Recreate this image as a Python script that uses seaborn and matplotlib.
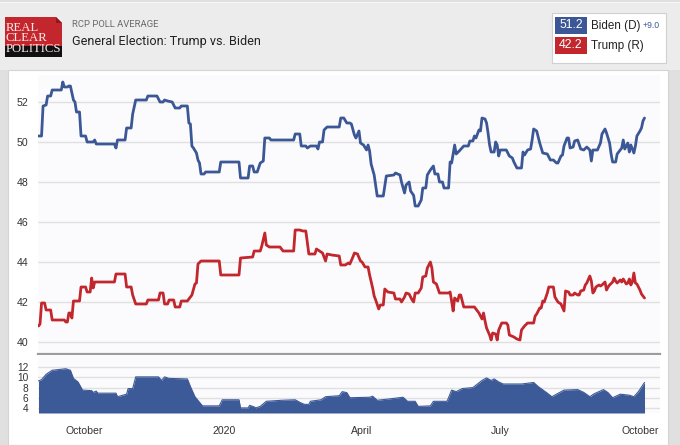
import matplotlib
matplotlib.use("Agg")
import matplotlib.pyplot as plt
from matplotlib.patches import Rectangle, Polygon
import numpy as np
import pandas as pd
import seaborn as sns

# ---------------- data (days since 2019-09-01) ----------------
START = "2019-09-01"

biden_days = [0, 2, 3, 5, 6, 8, 9, 15, 16, 17, 19, 20, 21, 23, 24, 25, 27, 28, 31, 32,
              36, 37, 38, 50, 51, 52, 57, 58, 61, 62, 64, 71, 72, 78, 80, 82, 83, 85, 88, 90,
              93, 94, 98, 99, 100, 101, 102, 104, 105, 106, 107, 109, 110, 119, 120, 132, 133, 138, 139, 141,
              142, 144, 146, 148, 149, 152, 153, 168, 169, 172, 173, 176, 177, 179, 183, 184, 185, 187, 188, 190,
              198, 199, 201, 203, 205, 206, 208, 209, 211, 212, 214, 216, 217, 218, 219, 221, 223, 227, 229, 234,
              235, 238, 239, 241, 242, 244, 245, 247, 248, 250, 252, 253, 255, 256, 258, 260, 261, 263, 264, 266,
              267, 270, 271, 272, 274, 275, 277, 280, 283, 284, 286, 287, 288, 290, 291, 292, 294, 295, 296, 297,
              298, 300, 301, 302, 303, 304, 308, 310, 312, 313, 315, 318, 319, 320, 322, 324, 325, 326, 328, 330,
              332, 335, 337, 339, 341, 342, 344, 345, 346, 348, 349, 350, 352, 353, 355, 357, 359, 361, 363, 364,
              365, 368, 370, 371, 373, 374, 376, 377, 378, 380, 381, 382, 384, 385, 386, 388, 389, 390, 392, 393,
              394, 396, 397, 398, 399]
biden_vals = [50.3, 50.3, 51.8, 51.85, 52.3, 52.3, 52.6, 52.6, 53.0, 52.75, 52.75, 52.8, 52.8, 52.1, 52.0, 51.5, 51.5, 50.3, 50.3, 50.0,
              50.0, 50.1, 49.9, 49.9, 49.7, 50.1, 50.1, 50.7, 50.7, 51.4, 52.1, 52.1, 52.3, 52.3, 52.0, 52.0, 52.1, 52.05, 52.0, 51.7,
              51.7, 51.8, 51.8, 50.95, 50.9, 49.8, 49.7, 49.45, 49.1, 48.95, 48.4, 48.4, 48.5, 48.5, 49.0, 49.0, 48.2, 48.2, 48.8, 48.8,
              48.5, 48.5, 48.95, 49.05, 50.2, 50.2, 50.1, 50.1, 50.4, 50.4, 49.8, 49.8, 49.7, 49.8, 49.8, 49.65, 50.0, 50.0, 50.6, 50.75,
              50.75, 51.2, 51.2, 50.95, 50.95, 50.9, 50.35, 50.2, 50.55, 49.95, 49.85, 49.6, 49.85, 49.55, 48.9, 48.35, 47.3, 47.3, 48.3, 48.35,
              48.45, 48.35, 48.0, 47.45, 47.85, 48.0, 47.55, 47.33, 46.8, 46.8, 47.1, 47.7, 47.7, 48.35, 48.6, 48.8, 48.4, 48.4, 48.0, 48.0,
              47.7, 47.7, 49.0, 48.95, 49.85, 49.4, 49.55, 49.8, 49.8, 50.05, 50.05, 50.3, 50.2, 50.6, 50.55, 51.2, 51.15, 50.95, 50.45, 49.85,
              49.5, 49.5, 50.0, 49.85, 49.3, 49.6, 49.6, 49.3, 49.2, 49.0, 48.7, 48.7, 49.5, 49.35, 49.6, 49.65, 50.1, 50.65, 50.55, 49.95,
              49.45, 49.4, 49.1, 49.1, 48.95, 48.95, 49.3, 49.35, 49.8, 50.2, 50.2, 49.7, 49.75, 50.05, 50.1, 49.65, 49.6, 49.75, 49.6, 49.05,
              49.6, 49.6, 49.95, 50.4, 50.65, 50.45, 49.95, 49.4, 49.0, 49.0, 49.4, 49.5, 49.7, 50.1, 49.65, 49.95, 49.5, 49.85, 49.45, 49.8,
              50.3, 50.55, 50.7, 51.05, 51.2]

trump_days = [0, 1, 2, 4, 5, 8, 9, 17, 18, 19, 20, 21, 22, 23, 27, 28, 31, 32, 34, 35,
              36, 37, 50, 51, 57, 58, 61, 62, 64, 71, 72, 79, 80, 82, 83, 85, 86, 89, 90, 93,
              94, 98, 100, 101, 103, 104, 105, 107, 119, 120, 132, 133, 141, 142, 146, 147, 149, 150, 152, 159,
              161, 168, 169, 172, 174, 176, 178, 182, 183, 185, 187, 189, 190, 193, 198, 199, 202, 204, 205, 207,
              208, 210, 212, 213, 215, 217, 218, 220, 221, 222, 224, 225, 227, 228, 230, 234, 235, 238, 239, 241,
              242, 244, 246, 247, 248, 250, 252, 253, 255, 256, 258, 259, 260, 262, 264, 270, 271, 272, 273, 274,
              276, 277, 278, 280, 287, 289, 290, 292, 293, 294, 295, 297, 298, 299, 301, 302, 303, 305, 308, 309,
              310, 313, 315, 317, 318, 320, 322, 326, 327, 328, 330, 331, 332, 333, 335, 336, 339, 340, 342, 344,
              346, 347, 349, 350, 352, 353, 355, 356, 357, 359, 360, 361, 363, 364, 365, 366, 367, 369, 370, 371,
              373, 374, 375, 376, 378, 379, 380, 381, 383, 384, 385, 387, 388, 389, 390, 391, 392, 393, 394, 396,
              397, 398, 399]
trump_vals = [40.8, 40.9, 41.95, 41.95, 41.6, 41.6, 41.1, 41.1, 41.0, 41.0, 41.45, 41.45, 41.2, 42.05, 42.05, 42.75, 42.75, 42.5, 42.5, 43.2,
              42.7, 43.0, 43.0, 43.4, 43.4, 42.75, 42.75, 42.35, 41.9, 41.9, 42.1, 42.1, 42.45, 42.45, 41.9, 41.9, 42.1, 42.1, 41.75, 41.75,
              42.05, 42.05, 42.25, 42.35, 42.9, 42.95, 43.9, 44.05, 44.05, 43.35, 43.35, 44.2, 44.25, 44.55, 44.55, 44.8, 45.45, 44.85, 44.75, 44.75,
              44.55, 44.55, 45.6, 45.6, 45.55, 45.55, 44.4, 44.4, 44.65, 44.55, 44.45, 44.05, 44.4, 44.35, 44.3, 43.85, 43.85, 43.95, 43.9, 44.25,
              44.45, 44.4, 44.05, 44.0, 43.75, 43.75, 43.35, 42.7, 42.3, 42.1, 41.65, 41.85, 41.85, 42.65, 42.5, 42.45, 42.15, 42.15, 42.0, 42.25,
              42.45, 42.4, 42.1, 42.0, 42.45, 42.45, 42.7, 43.25, 43.3, 43.7, 44.0, 43.7, 43.0, 42.9, 42.45, 42.45, 42.5, 42.05, 41.55, 42.2,
              42.05, 42.35, 42.35, 41.75, 41.75, 41.55, 41.45, 41.15, 41.45, 41.05, 40.7, 40.35, 40.1, 40.45, 40.4, 40.1, 40.6, 40.95, 40.95, 40.85,
              40.35, 40.25, 40.15, 40.1, 40.6, 40.8, 40.95, 40.95, 41.3, 41.4, 41.7, 41.7, 42.05, 42.0, 42.45, 42.75, 42.75, 42.25, 42.0, 41.9,
              41.55, 42.55, 42.5, 42.35, 42.35, 42.45, 42.35, 42.35, 42.55, 42.6, 42.85, 42.95, 43.3, 43.05, 42.45, 42.55, 42.75, 42.85, 42.8, 42.85,
              43.0, 42.6, 42.75, 42.85, 43.0, 43.2, 43.05, 42.95, 43.1, 43.0, 43.15, 42.9, 42.95, 43.15, 42.85, 43.0, 43.45, 42.95, 42.9, 42.6,
              42.4, 42.3, 42.2]

spread_days = [0, 2, 5, 9, 18, 21, 23, 26, 29, 35, 36, 38, 39, 51, 52, 58, 59, 62, 64, 79,
               81, 83, 86, 98, 100, 103, 106, 108, 119, 121, 132, 133, 138, 139, 142, 143, 146, 150, 160, 169,
               172, 175, 178, 179, 186, 189, 198, 200, 203, 205, 218, 220, 223, 232, 240, 243, 248, 250, 258, 260,
               269, 272, 275, 279, 286, 292, 295, 298, 300, 303, 306, 318, 326, 329, 335, 338, 346, 355, 359, 363,
               366, 372, 375, 378, 383, 389, 392, 395, 399]
spread_vals = [9.3, 9.55, 10.6, 11.4, 11.7, 11.4, 9.8, 9.1, 7.5, 7.4, 7.05, 7.3, 6.9, 6.9, 6.2, 6.7, 7.8, 7.8, 10.1, 10.1,
               9.4, 10.1, 9.8, 9.7, 8.2, 6.2, 5.1, 4.4, 4.4, 5.6, 5.6, 4.0, 4.0, 4.5, 4.2, 4.0, 4.3, 5.3, 5.5, 5.6,
               5.1, 4.7, 4.7, 5.3, 5.6, 6.2, 6.4, 7.2, 7.0, 6.0, 6.1, 6.3, 5.5, 5.8, 6.1, 5.3, 5.3, 4.3, 4.4, 5.3,
               5.3, 7.5, 7.2, 7.8, 8.0, 9.4, 9.9, 9.4, 9.7, 9.1, 8.7, 8.7, 9.0, 8.2, 6.9, 6.2, 7.5, 7.6, 7.05, 6.2,
               6.8, 7.6, 7.0, 6.0, 6.7, 6.5, 6.2, 7.2, 9.0]

tick_dates = ["2019-10-01", "2020-01-01", "2020-04-01", "2020-07-01", "2020-10-01"]
tick_labels = ["October", "2020", "April", "July", "October"]
main_yticks = [40, 42, 44, 46, 48, 50, 52]
spread_yticks = [4, 6, 8, 10, 12]

biden_last, trump_last = 51.2, 42.2
lead_text = "+9.0"

# ---------------- styling ----------------
W, H = 680, 445
BLUE = "#3b5796"
RED = "#c1272d"
sns.set_theme(style="white")
plt.rcParams['font.family'] = ['Liberation Sans', 'DejaVu Sans']

def fx(x):
    return x / W

def fy(y):
    return 1 - y / H

start = pd.Timestamp(START)
def to_dates(days):
    return start + pd.to_timedelta(np.asarray(days, dtype=float), unit="D")

df_b = pd.DataFrame({"date": to_dates(biden_days), "value": biden_vals})
df_t = pd.DataFrame({"date": to_dates(trump_days), "value": trump_vals})
df_s = pd.DataFrame({"date": to_dates(spread_days), "value": spread_vals})

fig = plt.figure(figsize=(W / 100, H / 100), dpi=100)
fig.patch.set_facecolor("#e0e0e0")

# header band
fig.add_artist(Rectangle((0, fy(70)), 1, 67 / H, transform=fig.transFigure,
                         facecolor="#ececec", edgecolor="none", zorder=0))
fig.add_artist(Rectangle((0, fy(3)), 1, 1.2 / H, transform=fig.transFigure,
                         facecolor="#f7f7f7", edgecolor="none", zorder=0))
# white chart panel
fig.add_artist(Rectangle((fx(8), 0), (668 - 8) / W, fy(70), transform=fig.transFigure,
                         facecolor="white", edgecolor="#d4d4d4", lw=0.8, zorder=0))

xmin = start - pd.Timedelta(hours=8)
xmax = start + pd.Timedelta(days=409.2)

# ---------------- main axes ----------------
ax = fig.add_axes([fx(38), fy(354), (660 - 38) / W, (354 - 75) / H])
ax.set_facecolor("#fbfbfd")
for y in main_yticks:
    ax.axhline(y, color="#e0e0e0", lw=1.0, zorder=0)
sns.lineplot(data=df_b, x="date", y="value", ax=ax, color=BLUE, lw=2.0,
             estimator=None, zorder=3)
sns.lineplot(data=df_t, x="date", y="value", ax=ax, color=RED, lw=2.0,
             estimator=None, zorder=3)
ax.set_xlim(xmin, xmax)
ax.set_ylim(39.4, 53.35)
ax.set_yticks(main_yticks)
ax.set_yticklabels([str(v) for v in main_yticks])
ax.set_xticks([])
ax.set_xlabel("")
ax.set_ylabel("")
ax.tick_params(axis="y", length=0, pad=7, labelsize=7.6, labelcolor="#333333")
for s in ["top", "right", "left"]:
    ax.spines[s].set_visible(False)
ax.spines["bottom"].set_color("#9c9c9c")
ax.spines["bottom"].set_linewidth(1.6)

# ---------------- spread axes ----------------
ax2 = fig.add_axes([fx(38), fy(413), (660 - 38) / W, (413 - 355) / H])
ax2.set_facecolor("#fbfbfd")
for y in spread_yticks:
    ax2.axhline(y, color="#e0e0e0", lw=1.0, zorder=0)
ax2.fill_between(df_s["date"], df_s["value"], 3.0, color="#3d5a98", lw=0, zorder=2)
sns.lineplot(data=df_s, x="date", y="value", ax=ax2, color="#3d5a98", lw=0.8,
             estimator=None, zorder=3)
ax2.set_xlim(xmin, xmax)
ax2.set_ylim(3.0, 14.4)
ax2.set_yticks(spread_yticks)
ax2.set_yticklabels([str(v) for v in spread_yticks])
ax2.set_xticks(pd.to_datetime(tick_dates))
ax2.set_xticklabels(tick_labels)
ax2.set_xlabel("")
ax2.set_ylabel("")
ax2.tick_params(axis="y", length=0, pad=7, labelsize=7.3, labelcolor="#333333")
ax2.tick_params(axis="x", length=0, pad=9, labelsize=7.6, labelcolor="#333333")
for s in ax2.spines.values():
    s.set_visible(False)

# ---------------- header: logo ----------------
fig.add_artist(Rectangle((fx(5), fy(46)), 57 / W, 29 / H, transform=fig.transFigure,
                         facecolor="#c3262c", edgecolor="none", zorder=2))
fig.add_artist(Polygon([(fx(56), fy(17)), (fx(62), fy(17)), (fx(62), fy(23))],
                       closed=True, transform=fig.transFigure,
                       facecolor="#ececec", edgecolor="none", zorder=3))
fig.add_artist(Polygon([(fx(56), fy(17)), (fx(62), fy(23)), (fx(56), fy(23))],
                       closed=True, transform=fig.transFigure,
                       facecolor="#8e1a1e", edgecolor="none", zorder=3))
fig.add_artist(Rectangle((fx(5), fy(57)), 57 / W, 11 / H, transform=fig.transFigure,
                         facecolor="#111111", edgecolor="none", zorder=2))
serif = ["Liberation Serif", "DejaVu Serif"]
fig.text(fx(5.2), fy(22.0), "REAL\nCLEAR\nPOLITICS", family=serif, fontsize=9.2,
         color="#fbeaea", va="top", ha="left", linespacing=0.82, zorder=4)

fig.text(fx(72), fy(27), "RCP POLL AVERAGE", family=["Roboto", "DejaVu Sans"],
         fontsize=6.8, color="#6a6a6a")
fig.text(fx(72), fy(45), "General Election: Trump vs. Biden", family=["Roboto", "DejaVu Sans"],
         fontsize=9.1, color="#222222")

# ---------------- header: legend box ----------------
fig.add_artist(Rectangle((fx(552), fy(63)), (666 - 552) / W, 50 / H, transform=fig.transFigure,
                         facecolor="white", edgecolor="#d0d0d0", lw=0.8, zorder=2))
fig.add_artist(Rectangle((fx(555), fy(34)), 32 / W, 17 / H, transform=fig.transFigure,
                         facecolor=BLUE, edgecolor="none", zorder=3))
fig.add_artist(Rectangle((fx(555), fy(54)), 32 / W, 17 / H, transform=fig.transFigure,
                         facecolor=RED, edgecolor="none", zorder=3))
fig.text(fx(571), fy(25.5), f"{biden_last:.1f}", ha="center", va="center", fontsize=8.8,
         color="white", zorder=4)
fig.text(fx(571), fy(45.5), f"{trump_last:.1f}", ha="center", va="center", fontsize=8.8,
         color="white", zorder=4)
fig.text(fx(591), fy(25.5), "Biden (D)", ha="left", va="center", fontsize=8.4,
         color="#222222", zorder=4)
fig.text(fx(643), fy(26), lead_text, ha="left", va="center", fontsize=6.2,
         color=BLUE, zorder=4)
fig.text(fx(591), fy(45.5), "Trump (R)", ha="left", va="center", fontsize=8.4,
         color="#222222", zorder=4)

fig.savefig("out.png", dpi=100, facecolor=fig.get_facecolor())
